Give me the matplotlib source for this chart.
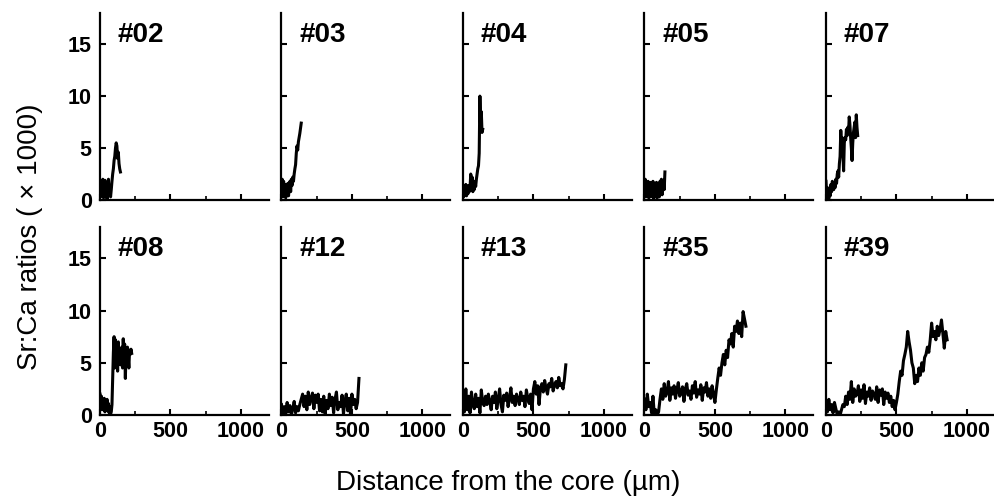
import numpy as np
import matplotlib
matplotlib.use("Agg")
import matplotlib.pyplot as plt
from matplotlib.ticker import MultipleLocator

plt.rcParams['font.family'] = ['Liberation Sans', 'DejaVu Sans']

labels = ["#02", "#03", "#04", "#05", "#07", "#08", "#12", "#13", "#35", "#39"]

# Sr:Ca (x1000) along the transect
s02 = [1.5, 0.3, 1.8, 0.5, 2.0, 0.2, 1.2, 1.9, 0.4, 1.6, 0.1, 1.0, 2.0, 0.6, 1.4, 0.3,
       1.0, 1.8, 2.5, 3.0, 3.8, 4.2, 5.0, 5.5, 5.2, 4.0, 4.6, 3.5, 3.0, 2.7]
s03 = [1.0, 2.0, 0.3, 1.8, 0.5, 1.5, 0.2, 1.2, 0.6, 1.6, 0.4, 1.3, 1.8, 0.8, 2.0, 1.4,
       2.2, 1.8, 2.5, 3.0, 3.4, 4.5, 5.2, 4.8, 5.6, 6.0, 6.4, 6.9, 7.4]
s04 = [1.0, 0.3, 1.2, 0.5, 1.5, 0.4, 1.0, 0.6, 1.4, 0.8, 1.2, 2.5, 1.0, 2.2, 0.8, 1.5,
       1.0, 1.8, 1.3, 2.0, 2.5, 3.0, 3.3, 4.5, 10.0, 7.0, 8.5, 6.5, 6.8]
s05 = [1.2, 2.0, 0.3, 1.6, 0.5, 1.8, 0.2, 1.4, 1.7, 0.3, 1.5, 0.6, 1.8, 0.1, 1.3, 1.6,
       0.4, 1.7, 0.2, 1.5, 1.2, 0.3, 1.8, 0.9, 2.0, 0.5, 1.4, 1.9, 1.0, 2.7]
s07 = [1.8, 0.5, 1.2, 0.2, 0.0, 1.0, 0.4, 1.5, 0.8, 1.8, 1.2, 1.0,
       1.5, 1.2, 2.0, 1.6, 2.5, 2.8, 2.2, 3.5, 4.2, 6.7,
       5.2, 6.0, 4.5, 2.8, 5.5, 6.0, 5.8, 6.8, 6.2,
       7.0, 6.5, 8.0, 7.2, 6.0, 5.0, 3.8, 5.5, 6.5, 7.0, 7.5, 6.0, 8.2, 7.0, 6.2]
s08 = [2.0, 1.2, 1.8, 0.5, 1.4, 0.8, 1.6, 0.3, 1.2, 1.0, 1.5, 0.4, 1.1, 0.2, 0.8, 0.1,
       0.3, 1.0,
       3.5, 6.0, 7.5, 4.5, 7.2, 5.0, 6.5, 4.2, 7.0, 5.5, 6.0, 4.8, 5.8, 6.5, 4.5, 7.3,
       5.2, 6.8, 3.5, 6.0, 5.2, 6.5, 5.5, 4.5, 6.2, 5.8, 6.3, 5.9]
s12 = [1.0, 0.2, 0.8, 0.1, 1.2, 0.3, 0.9, 0.0, 0.6, 1.3, 0.2, 0.8, 0.4, 1.0, 1.5,
       2.0, 0.8, 1.8, 0.5, 2.2, 1.0, 1.6, 2.1, 0.6, 1.9, 1.2, 2.0, 0.4, 1.5, 0.3, 1.8,
       0.1, 1.4, 0.6, 2.0, 0.9, 1.7, 0.2, 1.5, 2.2, 0.5, 1.2, 0.8, 1.9, 0.1, 1.3,
       2.0, 0.4, 1.6, 0.0, 2.0, 1.0, 1.5, 0.6, 1.2, 3.5]
s13 = [1.5, 0.3, 2.5, 0.5, 1.8, 0.2, 2.2, 1.0, 0.6, 2.0, 0.8, 1.6, 0.2, 2.4, 1.2, 0.9,
       1.8, 1.0, 2.0, 1.3,
       0.5, 1.8, 1.2, 2.2, 0.6, 1.5, 2.5, 1.0, 0.3, 1.9, 1.4, 2.1, 0.8, 1.6, 2.6, 1.2,
       1.8, 0.9, 2.0, 1.5,
       1.0, 2.2, 1.4, 1.8, 0.8, 2.4, 1.6, 1.1, 2.0, 0.5,
       2.5, 3.2, 2.0, 2.8, 1.0, 2.6, 3.0, 2.2, 3.3, 2.5, 2.0, 3.0, 2.7, 3.5, 2.3, 2.9,
       3.2, 2.6, 3.6, 2.8,
       3.0, 2.5, 3.4, 4.8]
s35 = [1.5, 0.5, 2.0, 0.8, 1.2, 0.2, 1.8, 0.0, 0.5, 0.0, 0.3, 1.5,
       2.5, 1.5, 3.0, 1.8, 2.2, 3.2, 1.4, 2.6, 2.0, 2.8, 1.6, 2.4, 3.1, 1.8, 2.2, 2.7,
       1.3, 2.5, 3.0, 1.9, 2.3, 1.5, 2.8, 2.1, 3.2, 1.7, 2.4, 2.0, 2.9, 1.4, 2.6, 2.2,
       3.1, 1.8, 2.5, 1.6, 2.8, 2.0, 1.2, 2.4,
       3.5, 4.5, 3.8, 5.0, 5.8, 4.8, 6.2, 5.5, 7.2, 6.8, 7.8, 6.5, 8.5, 8.0, 9.0, 7.8,
       8.8, 7.5, 9.9, 9.2, 8.5]
s39 = [1.2, 0.3, 1.5, 0.5, 1.0, 0.2, 1.2, 0.6, 0.0, 0.3, 0.0, 0.5, 1.0, 0.8, 1.8,
       1.0, 2.2, 1.5, 3.2, 1.2, 2.5, 1.8, 2.0, 2.8, 1.3, 2.4, 1.6, 2.9, 1.1, 2.2, 1.8,
       2.6, 1.4, 2.3, 2.0, 1.5, 2.7, 1.2, 2.4, 1.9, 2.5, 1.0, 2.2, 1.6, 2.1, 1.2, 1.8,
       0.8, 1.4, 0.5, 1.2,
       2.0, 3.2, 4.2, 3.8, 5.2, 5.8, 6.5, 8.0, 7.0, 6.2, 5.0, 4.5, 3.0, 3.8,
       3.2, 4.5, 3.8, 5.0, 4.2, 5.5, 5.8, 6.5, 6.0, 7.2, 8.8, 7.5, 8.0, 7.2, 8.5, 7.6,
       8.2, 9.1, 7.8, 6.4, 8.0, 7.2]
series = [s02, s03, s04, s05, s07, s08, s12, s13, s35, s39]
# end of each transect (um)
ends = [145, 140, 140, 145, 225, 225, 550, 730, 720, 860]

fig = plt.figure(figsize=(9.95, 5), dpi=100)

left0 = 100 / 995
step = 181.5 / 995
w = 169 / 995
rows = [(0.600, 0.374), (0.170, 0.376)]

for k in range(10):
    r, c = divmod(k, 5)
    ax = fig.add_axes([left0 + c * step, rows[r][0], w, rows[r][1]])
    y = series[k]
    x = np.linspace(0, ends[k], len(y))
    ax.plot(x, y, color='black', lw=2.2)
    ax.set_xlim(0, 1200)
    ax.set_ylim(0, 18)
    ax.xaxis.set_major_locator(MultipleLocator(500))
    ax.xaxis.set_minor_locator(MultipleLocator(250))
    ax.set_yticks([0, 5, 10, 15])
    for s in ['top', 'right']:
        ax.spines[s].set_visible(False)
    for s in ['left', 'bottom']:
        ax.spines[s].set_linewidth(1.6)
    ax.tick_params(direction='in', which='major', length=4, width=1.5,
                   labelsize=15.5)
    ax.tick_params(axis='y', pad=6)
    ax.tick_params(axis='x', pad=4)
    ax.tick_params(direction='in', which='minor', length=3, width=1.2)
    if c != 0:
        ax.set_yticklabels([])
    if r != 1:
        ax.set_xticklabels([])
    for t in ax.get_xticklabels() + ax.get_yticklabels():
        t.set_fontweight('bold')
    ax.text(0.105, 0.95, labels[k], transform=ax.transAxes, fontsize=20,
            fontweight='bold', va='top', ha='left')

fig.text(0.03, 0.526, "Sr:Ca ratios ( × 1000)", rotation=90, fontsize=20,
         ha='center', va='center')
fig.text(0.511, 0.008, "Distance from the core (µm)", fontsize=20,
         ha='center', va='bottom')

fig.savefig("out.png", dpi=100)
